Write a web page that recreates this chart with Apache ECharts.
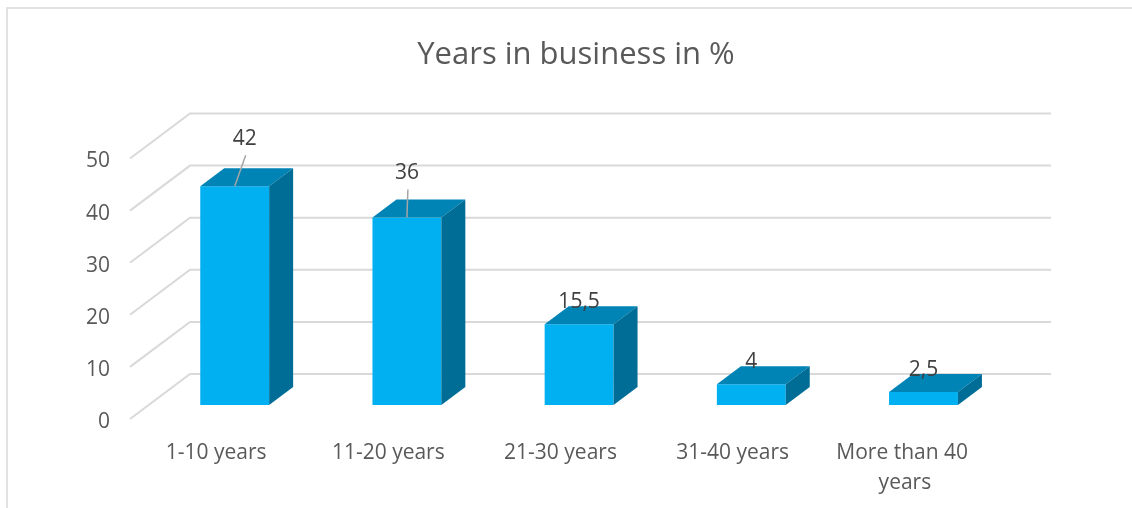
<!DOCTYPE html>
<html>
<head>
<meta charset="utf-8">
<script src="https://cdn.jsdelivr.net/npm/echarts@6/dist/echarts.min.js"></script>
<style>
html,body{margin:0;padding:0;background:#fff;}
#chart{width:1132px;height:508px;}
</style>
</head>
<body>
<div id="chart"></div>
<script>
const categories = ['1-10 years', '11-20 years', '21-30 years', '31-40 years', 'More than 40 years'];
const values = [42, 36, 15.5, 4, 2.5];
const valueLabels = ['42', '36', '15,5', '4', '2,5'];
const yTicks = [0, 10, 20, 30, 40, 50];
const titleText = 'Years in business in %';

// styling (not data)
const labelShift = [[10, -25], [0, -22], [0, 0], [0, 0], [0, 0]];
const DX = 60, DY = -45;      // floor depth projection
const F1 = 0.31, F2 = 0.71;   // bar front/back depth fractions
const BAR_RATIO = 0.4;
const FONT = 'Open Sans';
const C_FRONT = '#00B0F0', C_TOP = '#0083B5', C_SIDE = '#006D96';
const GRID_C = '#D9D9D9';

const chart = echarts.init(document.getElementById('chart'), null, {renderer: 'canvas'});

function renderBar(params, api) {
  const idx = api.value(0), val = api.value(1);
  const base = api.coord([idx, 0]);
  const top = api.coord([idx, val]);
  const band = api.size([1, 0])[0];
  const w = band * BAR_RATIO;
  const fx = base[0] + DX * F1 - w / 2;
  const by = base[1] + DY * F1;
  const ty = top[1] + DY * F1;
  const ddx = DX * (F2 - F1), ddy = DY * (F2 - F1);
  const children = [
    {type: 'rect', shape: {x: fx, y: ty, width: w, height: by - ty}, style: {fill: C_FRONT}},
    {type: 'polygon', shape: {points: [[fx, ty], [fx + w, ty], [fx + w + ddx, ty + ddy], [fx + ddx, ty + ddy]]}, style: {fill: C_TOP}},
    {type: 'polygon', shape: {points: [[fx + w, ty], [fx + w + ddx, ty + ddy], [fx + w + ddx, by + ddy], [fx + w, by]]}, style: {fill: C_SIDE}}
  ];
  const sh = labelShift[params.dataIndex];
  const lx = fx + w / 2 + sh[0];
  const ly = ty + ddy - 4 + sh[1];
  if (sh[0] !== 0 || sh[1] !== 0) {
    children.push({type: 'line', shape: {x1: lx + 1, y1: ly + 16, x2: fx + w / 2, y2: ty}, style: {stroke: '#A6A6A6', lineWidth: 1.5}});
  }
  children.push({type: 'text', x: lx, y: ly, style: {text: valueLabels[params.dataIndex], align: 'center', verticalAlign: 'middle', fill: '#404040', font: '21px "' + FONT + '"'}});
  return {type: 'group', children: children};
}

function renderGrid(params, api) {
  const v = api.value(1);
  const cs = params.coordSys;
  const y = api.coord([0, v])[1];
  return {
    type: 'group',
    children: [
      {
        type: 'polyline',
        shape: {points: [[cs.x, y], [cs.x + DX, y + DY], [cs.x + cs.width + DX, y + DY]]},
        style: {stroke: GRID_C, lineWidth: 2, fill: null}
      },
      {
        type: 'text', x: cs.x - 20, y: y + 3,
        style: {text: String(v), align: 'right', verticalAlign: 'middle', fill: '#595959', font: '21px "' + FONT + '"'}
      }
    ]
  };
}

const option = {
  animation: false,
  backgroundColor: '#fff',
  textStyle: {fontFamily: FONT},
  graphic: [
    {type: 'rect', shape: {x: 7, y: 8, width: 1200, height: 600}, style: {fill: null, stroke: GRID_C, lineWidth: 1.5}, z: 0},
    {type: 'text', x: 576, y: 55, style: {text: titleText, align: 'center', verticalAlign: 'middle', fill: '#595959', font: '31px "' + FONT + '"'}}
  ],
  grid: {left: 130, right: 141, top: 158.5, bottom: 89, containLabel: false},
  xAxis: {
    type: 'category', data: categories,
    axisLine: {show: false}, axisTick: {show: false}, splitLine: {show: false},
    axisLabel: {interval: 0, fontSize: 21, color: '#595959', fontFamily: FONT, margin: 19, width: 160, overflow: 'break', lineHeight: 30}
  },
  yAxis: {
    type: 'value', min: 0, max: 50, interval: 10,
    axisLine: {show: false}, axisTick: {show: false}, splitLine: {show: false},
    axisLabel: {show: false}
  },
  series: [
    {type: 'custom', renderItem: renderGrid, data: yTicks.map(v => [0, v]), encode: {x: 0, y: 1}, z: 1, silent: true},
    {type: 'custom', renderItem: renderBar, data: values.map((v, i) => [i, v]), encode: {x: 0, y: 1}, z: 2}
  ]
};
chart.setOption(option);
</script>
</body>
</html>
